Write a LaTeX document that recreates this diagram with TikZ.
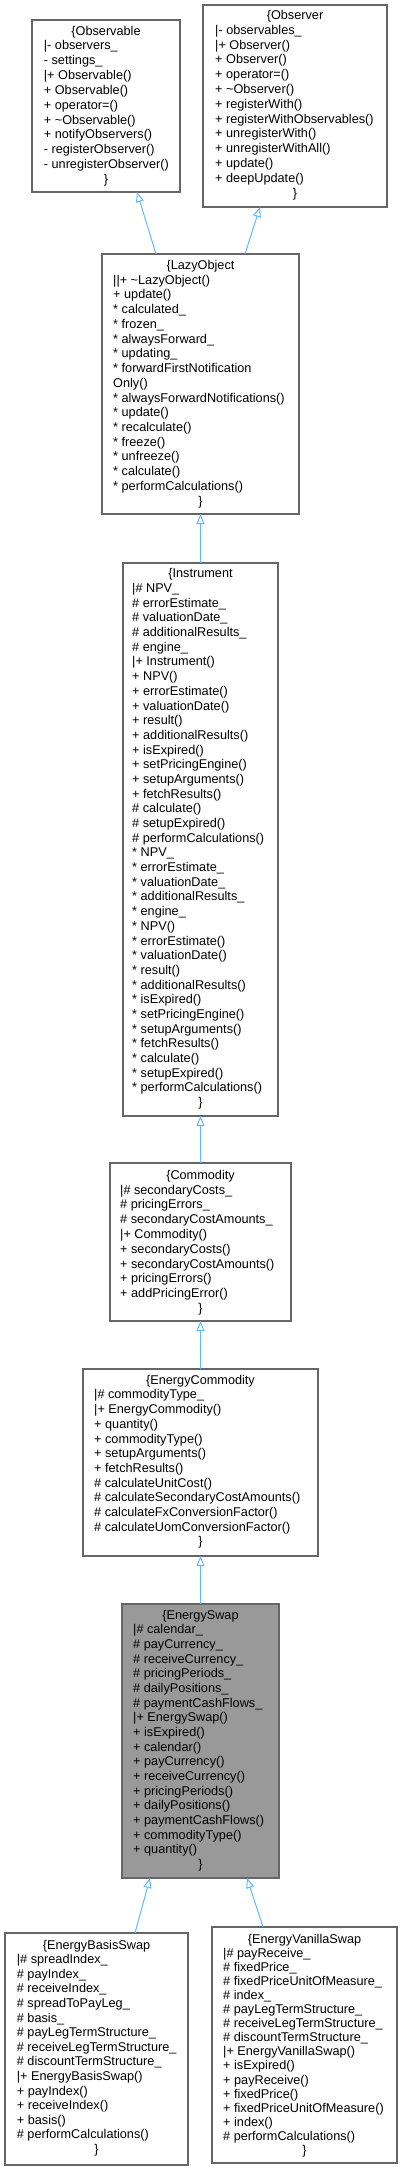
\documentclass[tikz,border=0pt]{standalone}
\usepackage{fontspec}
\setmainfont{Liberation Sans}
\usetikzlibrary{arrows.meta}
\definecolor{edgeblue}{HTML}{63B8FF}
\definecolor{boxborder}{HTML}{666666}
\definecolor{swapfill}{HTML}{999999}
\newcommand\umlfont[1]{\fontsize{12.7bp}{#1bp}\selectfont}
\tikzset{
  classbox/.style={draw=boxborder, line width=1.1bp, fill=white, rectangle, inner sep=0pt, outer sep=0pt, anchor=north west},
  focusbox/.style={classbox, fill=swapfill},
  classtitle/.style={anchor=base, inner sep=0pt},
  members/.style={anchor=base west, inner sep=0pt, align=left},
  inherit/.style={draw=edgeblue, line width=1bp, -{Triangle[open, length=10bp, width=8bp]}},
}
\begin{document}
\begin{tikzpicture}[x=1bp, y=-1bp]
\useasboundingbox (0,0) rectangle (403,2177);

% Observable
\node[classbox, minimum width=148bp, minimum height=172bp] (obs) at (32,20) {};
\node[classtitle, font=\umlfont{14.83}] (obsT) at (106,35.2) {\{Observable};
\node[members, font=\umlfont{14.83}] (obsM) at (43.7,50.0) {\begin{tabular}[t]{@{}l@{}}
|- observers\_\\
- settings\_\\
|+ Observable()\\
+ Observable()\\
+ operator=()\\
+ \textasciitilde Observable()\\
+ notifyObservers()\\
- registerObserver()\\
- unregisterObserver()
\end{tabular}};
\node[classtitle, font=\umlfont{14.83}] (obsC) at (106,183.5) {\}};

% Observer
\node[classbox, minimum width=184bp, minimum height=202bp] (obsr) at (203,5) {};
\node[classtitle, font=\umlfont{14.8}] (obsrT) at (295,19.5) {\{Observer};
\node[members, font=\umlfont{14.8}] (obsrM) at (215,34.3) {\begin{tabular}[t]{@{}l@{}}
|- observables\_\\
|+ Observer()\\
+ Observer()\\
+ operator=()\\
+ \textasciitilde Observer()\\
+ registerWith()\\
+ registerWithObservables()\\
+ unregisterWith()\\
+ unregisterWithAll()\\
+ update()\\
+ deepUpdate()
\end{tabular}};
\node[classtitle, font=\umlfont{14.8}] (obsrC) at (295,197.1) {\}};

% LazyObject
\node[classbox, minimum width=197bp, minimum height=260bp] (lazy) at (102,254) {};
\node[classtitle, font=\umlfont{14.73}] (lazyT) at (200.5,269.5) {\{LazyObject};
\node[members, font=\umlfont{14.73}] (lazyM) at (113,284.2) {\begin{tabular}[t]{@{}l@{}}
||+ \textasciitilde LazyObject()\\
+ update()\\
{*} calculated\_\\
{*} frozen\_\\
{*} alwaysForward\_\\
{*} updating\_\\
{*} forwardFirstNotification\\
Only()\\
{*} alwaysForwardNotifications()\\
{*} update()\\
{*} recalculate()\\
{*} freeze()\\
{*} unfreeze()\\
{*} calculate()\\
{*} performCalculations()
\end{tabular}};
\node[classtitle, font=\umlfont{14.73}] (lazyC) at (200.5,505.2) {\}};

% Instrument
\node[classbox, minimum width=155bp, minimum height=553bp] (inst) at (123,563) {};
\node[classtitle, font=\umlfont{14.69}] (instT) at (200.5,577.8) {\{Instrument};
\node[members, font=\umlfont{14.69}] (instM) at (132,592.5) {\begin{tabular}[t]{@{}l@{}}
|\# NPV\_\\
\# errorEstimate\_\\
\# valuationDate\_\\
\# additionalResults\_\\
\# engine\_\\
|+ Instrument()\\
+ NPV()\\
+ errorEstimate()\\
+ valuationDate()\\
+ result()\\
+ additionalResults()\\
+ isExpired()\\
+ setPricingEngine()\\
+ setupArguments()\\
+ fetchResults()\\
\# calculate()\\
\# setupExpired()\\
\# performCalculations()\\
{*} NPV\_\\
{*} errorEstimate\_\\
{*} valuationDate\_\\
{*} additionalResults\_\\
{*} engine\_\\
{*} NPV()\\
{*} errorEstimate()\\
{*} valuationDate()\\
{*} result()\\
{*} additionalResults()\\
{*} isExpired()\\
{*} setPricingEngine()\\
{*} setupArguments()\\
{*} fetchResults()\\
{*} calculate()\\
{*} setupExpired()\\
{*} performCalculations()
\end{tabular}};
\node[classtitle, font=\umlfont{14.69}] (instC) at (200.5,1106.6) {\}};

% Commodity
\node[classbox, minimum width=181bp, minimum height=158bp] (comm) at (110,1163) {};
\node[classtitle, font=\umlfont{14.8}] (commT) at (200.5,1179.2) {\{Commodity};
\node[members, font=\umlfont{14.8}] (commM) at (120,1194.0) {\begin{tabular}[t]{@{}l@{}}
|\# secondaryCosts\_\\
\# pricingErrors\_\\
\# secondaryCostAmounts\_\\
|+ Commodity()\\
+ secondaryCosts()\\
+ secondaryCostAmounts()\\
+ pricingErrors()\\
+ addPricingError()
\end{tabular}};
\node[classtitle, font=\umlfont{14.8}] (commC) at (200.5,1312.4) {\}};

% EnergyCommodity
\node[classbox, minimum width=235bp, minimum height=187bp] (ecom) at (83,1369) {};
\node[classtitle, font=\umlfont{14.7}] (ecomT) at (200.5,1384.2) {\{EnergyCommodity};
\node[members, font=\umlfont{14.7}] (ecomM) at (94,1398.9) {\begin{tabular}[t]{@{}l@{}}
|\# commodityType\_\\
|+ EnergyCommodity()\\
+ quantity()\\
+ commodityType()\\
+ setupArguments()\\
+ fetchResults()\\
\# calculateUnitCost()\\
\# calculateSecondaryCostAmounts()\\
\# calculateFxConversionFactor()\\
\# calculateUomConversionFactor()
\end{tabular}};
\node[classtitle, font=\umlfont{14.7}] (ecomC) at (200.5,1545.9) {\}};

% EnergySwap
\node[focusbox, minimum width=157bp, minimum height=274bp] (eswap) at (122,1604) {};
\node[classtitle, font=\umlfont{14.66}] (eswapT) at (200.5,1619.2) {\{EnergySwap};
\node[members, font=\umlfont{14.66}] (eswapM) at (133,1633.9) {\begin{tabular}[t]{@{}l@{}}
|\# calendar\_\\
\# payCurrency\_\\
\# receiveCurrency\_\\
\# pricingPeriods\_\\
\# dailyPositions\_\\
\# paymentCashFlows\_\\
|+ EnergySwap()\\
+ isExpired()\\
+ calendar()\\
+ payCurrency()\\
+ receiveCurrency()\\
+ pricingPeriods()\\
+ dailyPositions()\\
+ paymentCashFlows()\\
+ commodityType()\\
+ quantity()
\end{tabular}};
\node[classtitle, font=\umlfont{14.66}] (eswapC) at (200.5,1868.4) {\}};

% EnergyBasisSwap
\node[classbox, minimum width=183bp, minimum height=232bp] (basis) at (5,1933) {};
\node[classtitle, font=\umlfont{14.6}] (basisT) at (96.5,1949.0) {\{EnergyBasisSwap};
\node[members, font=\umlfont{14.6}] (basisM) at (16.7,1963.6) {\begin{tabular}[t]{@{}l@{}}
|\# spreadIndex\_\\
\# payIndex\_\\
\# receiveIndex\_\\
\# spreadToPayLeg\_\\
\# basis\_\\
\# payLegTermStructure\_\\
\# receiveLegTermStructure\_\\
\# discountTermStructure\_\\
|+ EnergyBasisSwap()\\
+ payIndex()\\
+ receiveIndex()\\
+ basis()\\
\# performCalculations()
\end{tabular}};
\node[classtitle, font=\umlfont{14.6}] (basisC) at (96.5,2153.4) {\}};

% EnergyVanillaSwap
\node[classbox, minimum width=185bp, minimum height=236bp] (vanilla) at (212,1927) {};
\node[classtitle, font=\umlfont{14.1}] (vanillaT) at (304.5,1943.0) {\{EnergyVanillaSwap};
\node[members, font=\umlfont{14.1}] (vanillaM) at (223,1957.1) {\begin{tabular}[t]{@{}l@{}}
|\# payReceive\_\\
\# fixedPrice\_\\
\# fixedPriceUnitOfMeasure\_\\
\# index\_\\
\# payLegTermStructure\_\\
\# receiveLegTermStructure\_\\
\# discountTermStructure\_\\
|+ EnergyVanillaSwap()\\
+ isExpired()\\
+ payReceive()\\
+ fixedPrice()\\
+ fixedPriceUnitOfMeasure()\\
+ index()\\
\# performCalculations()
\end{tabular}};
\node[classtitle, font=\umlfont{14.1}] (vanillaC) at (304.5,2154.5) {\}};

% inheritance connectors
\draw[inherit] ([xshift=-44.5bp]lazy.north) -- ([xshift=31bp]obs.south);
\draw[inherit] ([xshift=44.5bp]lazy.north) -- ([xshift=-35bp]obsr.south);
\draw[inherit] (inst.north) -- (lazy.south);
\draw[inherit] (comm.north) -- (inst.south);
\draw[inherit] (ecom.north) -- (comm.south);
\draw[inherit] (eswap.north) -- (ecom.south);
\draw[inherit] ([xshift=38.5bp]basis.north) -- ([xshift=-50.5bp]eswap.south);
\draw[inherit] ([xshift=-41.5bp]vanilla.north) -- ([xshift=46.5bp]eswap.south);
\end{tikzpicture}
\end{document}
